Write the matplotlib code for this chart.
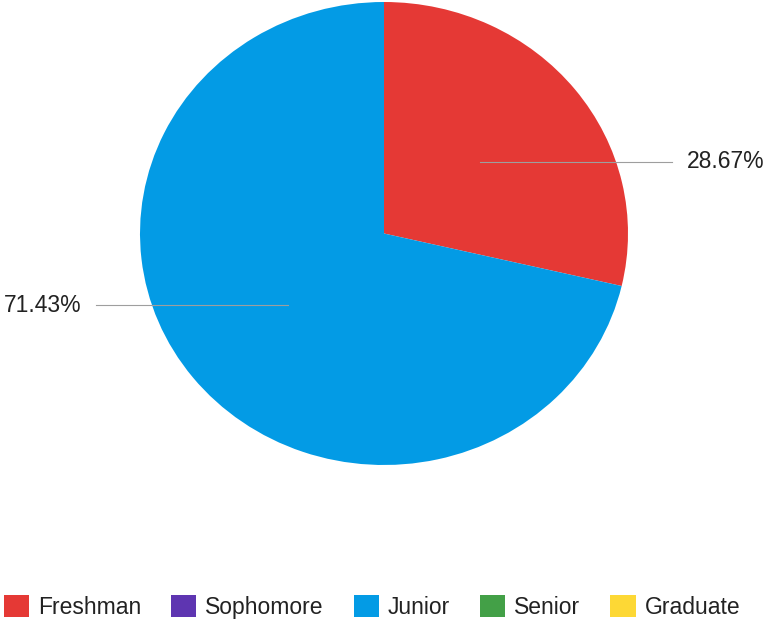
import numpy as np
import matplotlib.pyplot as plt
from matplotlib.patches import Patch

plt.rcParams['font.family'] = ['Liberation Sans', 'DejaVu Sans']

classes = ['Freshman', 'Sophomore', 'Junior', 'Senior', 'Graduate']
shares = [28.67, 0, 71.43, 0, 0]
colors = ['#e53935', '#5e35b1', '#039be5', '#43a047', '#fdd835']

fig = plt.figure(figsize=(7.69, 6.2), dpi=100)
ax = fig.add_axes([140/769, 1 - 465/620, 488/769, 463/620])

ax.pie(shares, colors=colors, startangle=90, counterclock=False,
       wedgeprops=dict(linewidth=0))
ax.set_aspect('auto')
ax.set_xlim(-1, 1); ax.set_ylim(-1, 1)
ax.axis('off')

# leader lines + labels
total = sum(shares)
start = 90
for v in shares:
    if v == 0:
        continue
    sweep = v / total * 360
    mid = np.deg2rad(start - sweep / 2)
    x0, y0 = 0.5 * np.cos(mid), 0.5 * np.sin(mid)
    side = 1 if x0 > 0 else -1
    ax.plot([x0, side * 1.18], [y0, y0], color='#9e9e9e', lw=0.8, clip_on=False)
    ax.text(side * 1.24, y0, '%.2f%%' % v, ha='left' if side > 0 else 'right',
            va='center', fontsize=16.5, color='#222222', clip_on=False)
    start -= sweep

handles = [Patch(facecolor=c, edgecolor='none') for c in colors]
fig.legend(handles, classes, loc='center', bbox_to_anchor=(372/769, 1 - 607/620),
           ncol=5, frameon=False, fontsize=16.5, handlelength=1.1, handleheight=1.1,
           handletextpad=0.4, columnspacing=1.3, labelcolor='#222222')

fig.savefig('out.png', dpi=100)
